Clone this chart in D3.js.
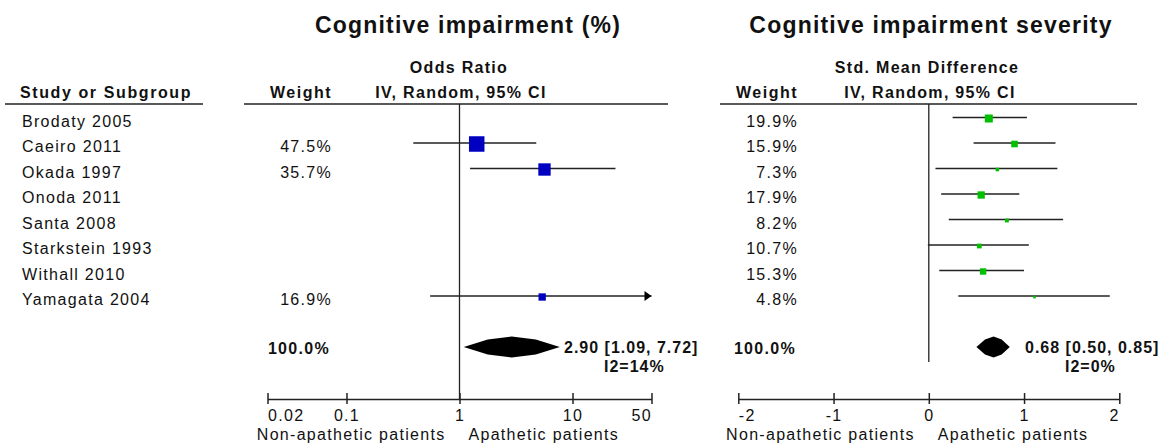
<!DOCTYPE html>
<html>
<head>
<meta charset="utf-8">
<script src="https://cdn.jsdelivr.net/npm/d3@7"></script>
<style>
  body { margin: 0; background: #fff; }
  svg text { font-family: "Liberation Sans", Arial, sans-serif; fill: #111; }
</style>
</head>
<body>
<div id="chart"></div>
<script>
// studies (same rows in both panels)
const studies = ["Brodaty 2005", "Caeiro 2011", "Okada 1997", "Onoda 2011", "Santa 2008", "Starkstein 1993", "Withall 2010", "Yamagata 2004"];

// left panel: odds ratio, IV random
const orWeight = [null, 47.5, 35.7, null, null, null, null, 16.9];
const orEst = [null, 1.42, 5.65, null, null, null, null, 5.39];
const orLow = [null, 0.39, 1.24, null, null, null, null, 0.55];
const orHigh = [null, 4.78, 24.0, null, null, null, null, 52.8];
const orTotal = [2.90, 1.09, 7.72];
const orI2 = "I2=14%";
const orTicks = [0.02, 0.1, 1, 10, 50];

// right panel: std. mean difference, IV random
const smdWeight = [19.9, 15.9, 7.3, 17.9, 8.2, 10.7, 15.3, 4.8];
const smdEst = [0.63, 0.90, 0.72, 0.55, 0.82, 0.53, 0.57, 1.11];
const smdLow = [0.25, 0.47, 0.07, 0.13, 0.21, -0.01, 0.11, 0.31];
const smdHigh = [1.03, 1.33, 1.35, 0.95, 1.41, 1.05, 1.00, 1.90];
const smdTotal = [0.68, 0.50, 0.85];
const smdI2 = "I2=0%";
const smdTicks = [-2, -1, 0, 1, 2];

const width = 1168, height = 448;
const lineCol = "#222";

const svg = d3.select("#chart").append("svg")
  .attr("width", width)
  .attr("height", height);

const y = d3.scalePoint().domain(studies).range([117.5, 296]);
const totalY = 347;
const axisY = 399;
const headY = 98, ruleY = 104;

const xL = d3.scaleLog().domain([0.02, 50]).range([267.5, 651.5]);
const xR = d3.scaleLinear().domain([-2, 2]).range([738.3, 1119.3]);

const pct = v => d3.format(".1f")(v) + "%";

function txt(x, yy, s, opts) {
  opts = opts || {};
  return svg.append("text")
    .attr("x", x).attr("y", yy)
    .attr("text-anchor", opts.anchor || "start")
    .style("font-size", (opts.size || 16) + "px")
    .style("font-weight", opts.bold ? "bold" : "normal")
    .style("letter-spacing", (opts.ls != null ? opts.ls : 1.3) + "px")
    .text(s);
}

// titles
txt(468, 33, "Cognitive impairment (%)", { anchor: "middle", size: 23, bold: true, ls: 1.2 });
txt(931, 33, "Cognitive impairment severity", { anchor: "middle", size: 23, bold: true, ls: 1.2 });

// column headers
txt(20, headY, "Study or Subgroup", { bold: true, ls: 1.6 });
txt(332, headY, "Weight", { anchor: "end", bold: true, ls: 1.5 });
txt(459, 73, "Odds Ratio", { anchor: "middle", bold: true, ls: 1.3 });
txt(461, headY, "IV, Random, 95% CI", { anchor: "middle", bold: true, ls: 1.3 });
txt(798, headY, "Weight", { anchor: "end", bold: true, ls: 1.5 });
txt(927, 73, "Std. Mean Difference", { anchor: "middle", bold: true, ls: 1.3 });
txt(930, headY, "IV, Random, 95% CI", { anchor: "middle", bold: true, ls: 1.3 });

[[5, 203], [244, 668], [720, 1137]].forEach(r => {
  svg.append("line")
    .attr("x1", r[0]).attr("x2", r[1])
    .attr("y1", ruleY).attr("y2", ruleY)
    .attr("stroke", lineCol).attr("stroke-width", 1.5);
});

// study names
svg.selectAll(".study").data(studies).enter().append("text")
  .attr("class", "study")
  .attr("x", 22)
  .attr("y", d => y(d) + 9)
  .style("font-size", "16px")
  .style("letter-spacing", "1.3px")
  .text(d => d);

// null lines
svg.append("line")
  .attr("x1", xL(1)).attr("x2", xL(1))
  .attr("y1", ruleY).attr("y2", axisY)
  .attr("stroke", lineCol).attr("stroke-width", 1.3);
svg.append("line")
  .attr("x1", xR(0)).attr("x2", xR(0))
  .attr("y1", ruleY).attr("y2", 362)
  .attr("stroke", lineCol).attr("stroke-width", 1.3);

function panel(x, weight, est, low, high, total, i2, color, sizeRange, weightX, sumX) {
  const rows = studies.map((s, i) => ({ s, w: weight[i], e: est[i], lo: low[i], hi: high[i] }))
    .filter(d => d.w != null);
  const [dmin, dmax] = x.domain();
  const size = d3.scaleLinear().domain([0, d3.max(rows, d => d.w)]).range(sizeRange);

  svg.selectAll(null).data(rows).enter().append("text")
    .attr("x", weightX)
    .attr("y", d => y(d.s) + 9)
    .attr("text-anchor", "end")
    .style("font-size", "16px")
    .style("letter-spacing", "1.3px")
    .text(d => pct(d.w));

  svg.selectAll(null).data(rows).enter().append("line")
    .attr("x1", d => x(Math.max(d.lo, dmin)))
    .attr("x2", d => x(Math.min(d.hi, dmax)))
    .attr("y1", d => y(d.s)).attr("y2", d => y(d.s))
    .attr("stroke", lineCol).attr("stroke-width", 1.3);

  // arrows where the CI runs off the scale
  svg.selectAll(null).data(rows.filter(d => d.hi > dmax)).enter().append("path")
    .attr("d", d => {
      const xe = x(dmax), yy = y(d.s);
      return `M${xe},${yy}L${xe - 7},${yy - 5}L${xe - 7},${yy + 5}Z`;
    })
    .attr("fill", "#000");

  svg.selectAll(null).data(rows).enter().append("rect")
    .attr("x", d => x(d.e) - size(d.w) / 2)
    .attr("y", d => y(d.s) - size(d.w) / 2 + 1)
    .attr("width", d => size(d.w))
    .attr("height", d => size(d.w))
    .attr("fill", color);

  // pooled diamond (slightly bulged, as drawn in the source)
  const [te, tl, th] = total;
  const xl = x(tl), xe = x(te), xh = x(th);
  const pts = [
    [xl, totalY], [xl + 0.5 * (xe - xl), totalY - 7.5], [xe, totalY - 10.5],
    [xe + 0.5 * (xh - xe), totalY - 7.5], [xh, totalY],
    [xe + 0.5 * (xh - xe), totalY + 7.5], [xe, totalY + 10.5],
    [xl + 0.5 * (xe - xl), totalY + 7.5]
  ];
  svg.append("path")
    .attr("d", "M" + pts.join("L") + "Z")
    .attr("fill", "#000");

  txt(weightX - 2, totalY + 7, "100.0%", { anchor: "end", bold: true, ls: 1.3 });
  txt(sumX, totalY + 6, `${te.toFixed(2)} [${tl.toFixed(2)}, ${th.toFixed(2)}]`, { bold: true, ls: 1.0 });
  txt(sumX + 40, totalY + 25, i2, { bold: true, ls: 1.0 });

  // axis
  const ticks = x.domain()[0] > 0 ? orTicks : smdTicks;
  const g = svg.append("g")
    .attr("transform", `translate(0,${axisY})`)
    .call(d3.axisBottom(x).tickValues(ticks).tickSizeOuter(0).tickFormat(d => String(d)));
  g.attr("font-size", null).attr("font-family", null);
  g.select(".domain").attr("stroke", lineCol).attr("stroke-width", 1.5);
  g.selectAll(".tick line").attr("y1", -6).attr("y2", 5).attr("stroke", lineCol).attr("stroke-width", 1.5);
  g.selectAll(".tick text")
    .attr("y", 10.5)
    .attr("fill", "#111")
    .style("font-size", "16px")
    .style("letter-spacing", "1.3px")
    .attr("text-anchor", (d, i) => i === 0 ? "start" : i === ticks.length - 1 ? "end" : "middle");

  const mid = x(ticks[2]);
  txt(mid - 14, 440, "Non-apathetic patients", { anchor: "end" });
  txt(mid + 9, 440, "Apathetic patients");
}

panel(xL, orWeight, orEst, orLow, orHigh, orTotal, orI2, "#0000c0", [2.8, 15.5], 332, 564);
panel(xR, smdWeight, smdEst, smdLow, smdHigh, smdTotal, smdI2, "#00c000", [1, 8], 798, 1025);
</script>
</body>
</html>
